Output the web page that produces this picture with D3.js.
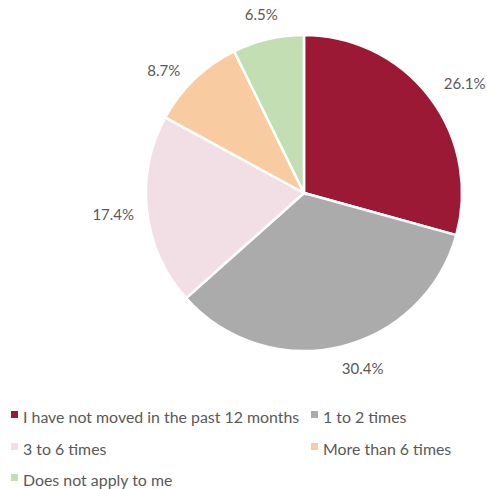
<!DOCTYPE html>
<html><head><meta charset="utf-8">
<script src="https://cdn.jsdelivr.net/npm/d3@7"></script>
<style>body{margin:0;background:#fff}svg{display:block}</style>
</head><body>
<script>
const categories = ["I have not moved in the past 12 months","1 to 2 times","3 to 6 times","More than 6 times","Does not apply to me"];
const values = [26.1, 30.4, 17.4, 8.7, 6.5];
const labels = ["26.1%","30.4%","17.4%","8.7%","6.5%"];
const colors = ["#9B1934","#ABABAB","#F2DEE5","#F8CCA0","#C4DEB4"];

const W=487,H=489, cx=304, cy=193, r=158;
const svg=d3.select("body").append("svg").attr("width",W).attr("height",H);
const font="Lato, 'Open Sans', sans-serif";
const pie=d3.pie().sort(null).value(d=>d)(values);
const arc=d3.arc().innerRadius(0).outerRadius(r);
const g=svg.append("g").attr("transform",`translate(${cx},${cy})`);
g.selectAll("path").data(pie).join("path").attr("d",arc)
 .attr("fill",(d,i)=>colors[i]).attr("stroke","#fff").attr("stroke-width",2.5);
const lab=d3.arc().innerRadius(r+30).outerRadius(r+30);
const nudge=[[11,4],[16,-8],[-4,0],[-10,13],[0,4]];
g.selectAll("text").data(pie).join("text")
 .attr("x",(d,i)=>lab.centroid(d)[0]+nudge[i][0])
 .attr("y",(d,i)=>lab.centroid(d)[1]+nudge[i][1])
 .attr("text-anchor","middle").attr("dominant-baseline","central")
 .attr("font-family",font).attr("font-size",15).attr("fill","#595959")
 .text((d,i)=>labels[i]);

const leg=[[11,415],[311,415],[11,447],[311,447],[11,478]];
const lg=svg.append("g");
categories.forEach((c,i)=>{
  lg.append("rect").attr("x",leg[i][0]).attr("y",leg[i][1]-4).attr("width",7).attr("height",7).attr("fill",colors[i]);
  lg.append("text").attr("x",leg[i][0]+12).attr("y",leg[i][1]+1).attr("dominant-baseline","central")
   .attr("font-family",font).attr("font-size",15.9).attr("fill","#595959").text(c);
});
</script>
</body></html>
